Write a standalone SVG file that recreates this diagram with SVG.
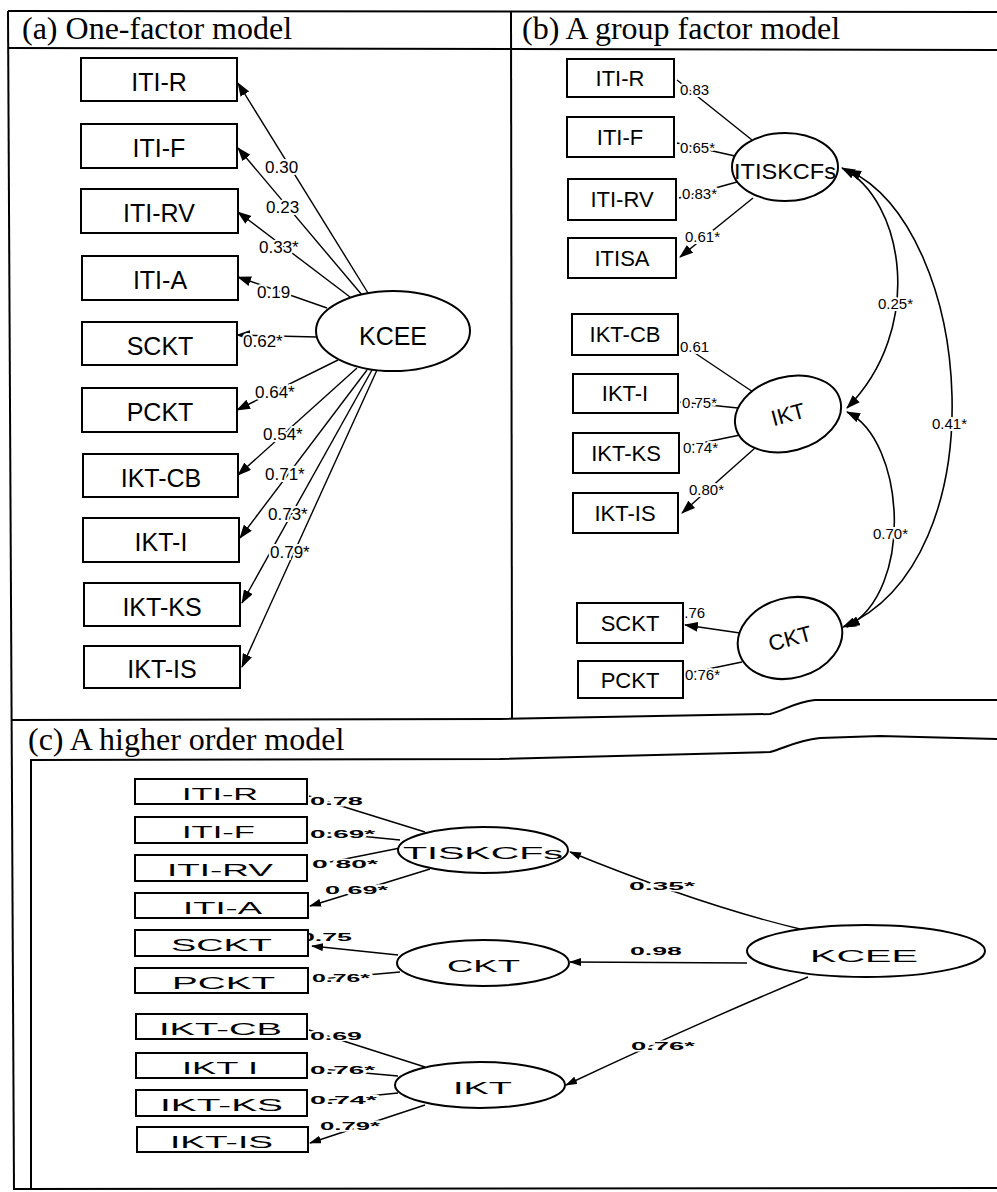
<svg xmlns="http://www.w3.org/2000/svg" width="997" height="1192" viewBox="0 0 997 1192">
<defs>
<marker id="ah" markerWidth="14" markerHeight="10" refX="13" refY="5" orient="auto" markerUnits="userSpaceOnUse"><path d="M0,0 L14,5 L0,10 z" fill="#000"/></marker>
<marker id="ah2" markerWidth="14" markerHeight="10" refX="13" refY="5" orient="auto-start-reverse" markerUnits="userSpaceOnUse"><path d="M0,0 L14,5 L0,10 z" fill="#000"/></marker>
<marker id="ahc" markerWidth="12" markerHeight="8" refX="11" refY="4" orient="auto" markerUnits="userSpaceOnUse"><path d="M0,0 L12,4 L0,8 z" fill="#000"/></marker>
<style>
.frame{fill:none;stroke:#000;stroke-width:2}
.box{fill:#fff;stroke:#000;stroke-width:2}
.ell{fill:#fff;stroke:#000;stroke-width:2}
.ln{fill:none;stroke:#000;stroke-width:1.4}
.arr{fill:none;stroke:#000;stroke-width:1.4;marker-end:url(#ah)}
.arrc{fill:none;stroke:#000;stroke-width:1.4;marker-end:url(#ahc)}
.dbl{fill:none;stroke:#000;stroke-width:1.6;marker-start:url(#ah2);marker-end:url(#ah2)}
.title{font-family:"Liberation Serif","Times New Roman",serif;font-size:32px;fill:#000}
.ta{font-family:"Liberation Sans",Arial,sans-serif;font-size:25px;fill:#000;text-anchor:middle}
.tb{font-family:"Liberation Sans",Arial,sans-serif;font-size:22px;fill:#000;text-anchor:middle}
.tc{font-family:"Liberation Sans",Arial,sans-serif;font-size:17px;fill:#000}
.la{font-family:"Liberation Sans",Arial,sans-serif;font-size:17px;fill:#000;stroke:#fff;stroke-width:4;paint-order:stroke}
.lb{font-family:"Liberation Sans",Arial,sans-serif;font-size:15px;fill:#000;stroke:#fff;stroke-width:4;paint-order:stroke}
.lc{font-family:"Liberation Sans",Arial,sans-serif;font-size:11px;font-weight:bold;fill:#000;stroke:#fff;stroke-width:3;paint-order:stroke}
</style>
</defs>

<!-- frame -->
<g id="frame">
<path class="frame" d="M8,11 L997,12"/>
<path class="frame" d="M8,48 L997,50"/>
<path class="frame" d="M8,11 L14,1190"/>
<path class="frame" d="M511,11 L512,719"/>
<path class="frame" d="M12,720 L500,719 L770,714 C785,710 795,702 815,700 L997,700"/>
<path class="frame" d="M30,760 L500,759 L770,752 C785,748 795,741 820,738 L880,736 L997,739"/>
<path class="frame" d="M31,760 L31,1188"/>
<path class="frame" d="M14,1189 L997,1188"/>
<text class="title" x="22" y="39">(a) One-factor model</text>
<text class="title" x="522" y="39">(b) A group factor model</text>
<text class="title" x="28" y="750">(c) A higher order model</text>
</g>

<!-- panel (a) connectors -->
<g id="connectors-a">
<path class="arr" d="M368,293 L238,83"/>
<path class="arr" d="M362,295 L238,148"/>
<path class="arr" d="M350,297 L238,212"/>
<path class="arr" d="M327,308 L238,277"/>
<path class="arr" d="M317,337 L237,335"/>
<path class="arr" d="M338,360 L237,410"/>
<path class="arr" d="M357,368 L238,475"/>
<path class="arr" d="M367,370 L240,538"/>
<path class="arr" d="M372,370 L242,603"/>
<path class="arr" d="M377,370 L242,667"/>
<text class="la" x="265" y="173">0.30</text>
<text class="la" x="266" y="213">0.23</text>
<text class="la" x="259" y="253">0.33*</text>
<text class="la" x="257" y="298">0.19</text>
<text class="la" x="243" y="347">0.62*</text>
<text class="la" x="255" y="398">0.64*</text>
<text class="la" x="263" y="440">0.54*</text>
<text class="la" x="265" y="480">0.71*</text>
<text class="la" x="268" y="520">0.73*</text>
<text class="la" x="270" y="558">0.79*</text>
</g>

<!-- panel (a) nodes -->
<g id="a-ITI-R"><rect class="box" x="81" y="58" width="156" height="43"/><text class="ta" x="159" y="91">ITI-R</text></g>
<g id="a-ITI-F"><rect class="box" x="81" y="124" width="156" height="44"/><text class="ta" x="159" y="157">ITI-F</text></g>
<g id="a-ITI-RV"><rect class="box" x="81" y="189" width="157" height="44"/><text class="ta" x="159" y="222">ITI-RV</text></g>
<g id="a-ITI-A"><rect class="box" x="82" y="256" width="156" height="44"/><text class="ta" x="160" y="289">ITI-A</text></g>
<g id="a-SCKT"><rect class="box" x="82" y="322" width="155" height="43"/><text class="ta" x="160" y="355">SCKT</text></g>
<g id="a-PCKT"><rect class="box" x="82" y="388" width="155" height="44"/><text class="ta" x="160" y="421">PCKT</text></g>
<g id="a-IKT-CB"><rect class="box" x="83" y="454" width="155" height="43"/><text class="ta" x="161" y="487">IKT-CB</text></g>
<g id="a-IKT-I"><rect class="box" x="83" y="518" width="156" height="44"/><text class="ta" x="161" y="551">IKT-I</text></g>
<g id="a-IKT-KS"><rect class="box" x="84" y="583" width="156" height="43"/><text class="ta" x="162" y="616">IKT-KS</text></g>
<g id="a-IKT-IS"><rect class="box" x="84" y="646" width="156" height="42"/><text class="ta" x="162" y="678">IKT-IS</text></g>
<g id="a-KCEE"><ellipse class="ell" cx="393" cy="331" rx="77" ry="40"/><text class="ta" x="393" y="345">KCEE</text></g>

<!-- panel (b) connectors -->
<g id="connectors-b">
<path class="ln" d="M677,80 L752,140"/>
<path class="ln" d="M677,143 L735,156"/>
<path class="ln" d="M679,198 L737,182"/>
<path class="arr" d="M753,198 L680,257"/>
<path class="ln" d="M680,343 L753,392"/>
<path class="ln" d="M680,402 L738,408"/>
<path class="ln" d="M682,447 L740,435"/>
<path class="arr" d="M755,448 L682,513"/>
<path class="arr" d="M740,633 L685,625"/>
<path class="ln" d="M684,674 L742,662"/>
<path class="dbl" d="M842,168 C905,200 925,330 847,408"/>
<path class="dbl" d="M848,170 C975,230 1000,560 843,627"/>
<path class="dbl" d="M847,412 C905,440 915,590 847,627"/>
<text class="lb" x="680" y="95">0.83</text>
<text class="lb" x="680" y="153">0.65*</text>
<text class="lb" x="682" y="199">0.83*</text>
<text class="lb" x="685" y="242">0.61*</text>
<text class="lb" x="878" y="309">0.25*</text>
<text class="lb" x="680" y="352">0.61</text>
<text class="lb" x="682" y="408">0.75*</text>
<text class="lb" x="683" y="453">0.74*</text>
<text class="lb" x="689" y="495">0.80*</text>
<text class="lb" x="932" y="429">0.41*</text>
<text class="lb" x="873" y="539">0.70*</text>
<text class="lb" x="676" y="618">0.76</text>
<text class="lb" x="685" y="680">0.76*</text>
</g>

<!-- panel (b) nodes -->
<g id="b-ITI-R"><rect class="box" x="567" y="59" width="107" height="38"/><text class="tb" x="620" y="86">ITI-R</text></g>
<g id="b-ITI-F"><rect class="box" x="567" y="117" width="107" height="40"/><text class="tb" x="620" y="145">ITI-F</text></g>
<g id="b-ITI-RV"><rect class="box" x="568" y="179" width="108" height="41"/><text class="tb" x="622" y="207">ITI-RV</text></g>
<g id="b-ITISA"><rect class="box" x="568" y="238" width="108" height="40"/><text class="tb" x="622" y="266">ITISA</text></g>
<g id="b-IKT-CB"><rect class="box" x="572" y="314" width="106" height="41"/><text class="tb" x="625" y="342">IKT-CB</text></g>
<g id="b-IKT-I"><rect class="box" x="573" y="374" width="105" height="39"/><text class="tb" x="625" y="401">IKT-I</text></g>
<g id="b-IKT-KS"><rect class="box" x="573" y="433" width="106" height="40"/><text class="tb" x="626" y="461">IKT-KS</text></g>
<g id="b-IKT-IS"><rect class="box" x="573" y="493" width="105" height="40"/><text class="tb" x="625" y="521">IKT-IS</text></g>
<g id="b-SCKT"><rect class="box" x="577" y="603" width="106" height="40"/><text class="tb" x="630" y="631">SCKT</text></g>
<g id="b-PCKT"><rect class="box" x="578" y="661" width="105" height="37"/><text class="tb" x="630" y="688">PCKT</text></g>
<g id="b-ITISKCFs"><ellipse class="ell" cx="785" cy="167" rx="53" ry="34"/><text class="tb" x="785" y="179" textLength="102" lengthAdjust="spacingAndGlyphs">ITISKCFs</text></g>
<g id="b-IKT"><ellipse class="ell" cx="788" cy="414" rx="54" ry="37" transform="rotate(-15 788 414)"/><text class="tb" x="788" y="422" transform="rotate(-15 788 414)">IKT</text></g>
<g id="b-CKT"><ellipse class="ell" cx="790" cy="638" rx="53" ry="40" transform="rotate(-15 790 638)"/><text class="tb" x="790" y="646" transform="rotate(-15 790 638)">CKT</text></g>

<!-- panel (c) connectors -->
<g id="connectors-c">
<path class="ln" d="M425,832 L309,796"/>
<path class="ln" d="M400,840 L309,831"/>
<path class="ln" d="M400,848 L310,866"/>
<path class="arrc" d="M430,869 L310,906"/>
<path class="arrc" d="M398,955 L312,946"/>
<path class="ln" d="M400,972 L310,980"/>
<path class="ln" d="M425,1067 L309,1030"/>
<path class="ln" d="M398,1076 L309,1068"/>
<path class="ln" d="M398,1093 L309,1102"/>
<path class="arrc" d="M425,1105 L310,1143"/>
<path class="arrc" d="M800,929 Q700,905 570,852"/>
<path class="arrc" d="M747,963 L570,962"/>
<path class="arrc" d="M808,977 Q700,1022 566,1085"/>
<text class="lc" x="310" y="805" textLength="53" lengthAdjust="spacingAndGlyphs">0.78</text>
<text class="lc" x="310" y="838" textLength="65" lengthAdjust="spacingAndGlyphs">0.69*</text>
<text class="lc" x="312" y="868" textLength="66" lengthAdjust="spacingAndGlyphs">0 80*</text>
<text class="lc" x="325" y="894" textLength="63" lengthAdjust="spacingAndGlyphs">0 69*</text>
<text class="lc" x="300" y="941" textLength="52" lengthAdjust="spacingAndGlyphs">0.75</text>
<text class="lc" x="312" y="982" textLength="58" lengthAdjust="spacingAndGlyphs">0.76*</text>
<text class="lc" x="310" y="1040" textLength="52" lengthAdjust="spacingAndGlyphs">0.69</text>
<text class="lc" x="310" y="1074" textLength="65" lengthAdjust="spacingAndGlyphs">0.76*</text>
<text class="lc" x="310" y="1104" textLength="67" lengthAdjust="spacingAndGlyphs">0.74*</text>
<text class="lc" x="320" y="1130" textLength="60" lengthAdjust="spacingAndGlyphs">0.79*</text>
<text class="lc" x="629" y="890" textLength="66" lengthAdjust="spacingAndGlyphs">0.35*</text>
<text class="lc" x="630" y="955" textLength="52" lengthAdjust="spacingAndGlyphs">0.98</text>
<text class="lc" x="631" y="1050" textLength="64" lengthAdjust="spacingAndGlyphs">0.76*</text>
</g>

<!-- panel (c) nodes -->
<g id="c-ITI-R"><rect class="box" x="135" y="779" width="172" height="25"/><text class="tc" x="182" y="800" textLength="76" lengthAdjust="spacingAndGlyphs">ITI-R</text></g>
<g id="c-ITI-F"><rect class="box" x="135" y="817" width="172" height="26"/><text class="tc" x="182" y="838" textLength="73" lengthAdjust="spacingAndGlyphs">ITI-F</text></g>
<g id="c-ITI-RV"><rect class="box" x="135" y="855" width="172" height="26"/><text class="tc" x="167" y="876" textLength="106" lengthAdjust="spacingAndGlyphs">ITI-RV</text></g>
<g id="c-ITI-A"><rect class="box" x="135" y="893" width="173" height="25"/><text class="tc" x="183" y="914" textLength="79" lengthAdjust="spacingAndGlyphs">ITI-A</text></g>
<g id="c-SCKT"><rect class="box" x="135" y="930" width="173" height="26"/><text class="tc" x="171" y="951" textLength="101" lengthAdjust="spacingAndGlyphs">SCKT</text></g>
<g id="c-PCKT"><rect class="box" x="135" y="968" width="173" height="25"/><text class="tc" x="172" y="989" textLength="103" lengthAdjust="spacingAndGlyphs">PCKT</text></g>
<g id="c-IKT-CB"><rect class="box" x="136" y="1014" width="171" height="25"/><text class="tc" x="159" y="1035" textLength="123" lengthAdjust="spacingAndGlyphs">IKT-CB</text></g>
<g id="c-IKT-I"><rect class="box" x="136" y="1053" width="171" height="25"/><text class="tc" x="182" y="1074" textLength="76" lengthAdjust="spacingAndGlyphs">IKT I</text></g>
<g id="c-IKT-KS"><rect class="box" x="136" y="1090" width="171" height="26"/><text class="tc" x="160" y="1111" textLength="123" lengthAdjust="spacingAndGlyphs">IKT-KS</text></g>
<g id="c-IKT-IS"><rect class="box" x="137" y="1127" width="171" height="25"/><text class="tc" x="170" y="1148" textLength="103" lengthAdjust="spacingAndGlyphs">IKT-IS</text></g>
<g id="c-TISKCFs"><ellipse class="ell" cx="483" cy="850" rx="85" ry="23"/><text class="tc" x="403" y="859" font-size="22" textLength="160" lengthAdjust="spacingAndGlyphs">TISKCFs</text></g>
<g id="c-CKT"><ellipse class="ell" cx="483" cy="963" rx="86" ry="23"/><text class="tc" x="447" y="972" font-size="19" textLength="73" lengthAdjust="spacingAndGlyphs">CKT</text></g>
<g id="c-IKT"><ellipse class="ell" cx="480" cy="1085" rx="85" ry="23"/><text class="tc" x="453" y="1094" font-size="18" textLength="59" lengthAdjust="spacingAndGlyphs">IKT</text></g>
<g id="c-KCEE"><ellipse class="ell" cx="866" cy="951" rx="119" ry="26"/><text class="tc" x="810" y="962" font-size="21" textLength="108" lengthAdjust="spacingAndGlyphs">KCEE</text></g>
</svg>
